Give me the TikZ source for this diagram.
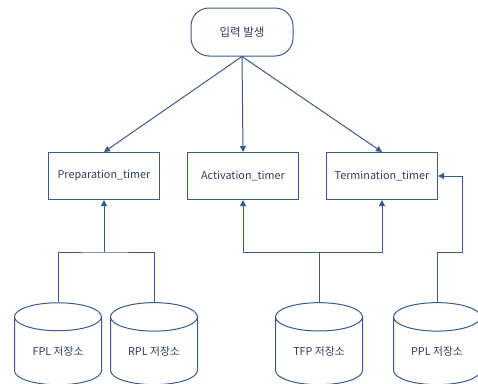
\documentclass[tikz,border=0pt]{standalone}
\usepackage{fontspec}
\setmainfont{Noto Sans CJK KR}
\usetikzlibrary{shapes.geometric,arrows.meta}
\definecolor{ln}{HTML}{3A5A8A}
\definecolor{tx}{HTML}{2F3D5C}
\begin{document}
\begin{tikzpicture}[x=1pt,y=-1pt,
  every node/.style={font=\fontsize{10.8}{13}\selectfont, text=tx},
  box/.style={draw=ln, line width=1pt, minimum width=111pt, minimum height=47pt, inner sep=0pt},
  startbox/.style={draw=ln, line width=1pt, rounded corners=18pt, minimum width=102pt, minimum height=48pt, inner sep=0pt, font=\fontsize{11.5}{13}\selectfont},
  store/.style={cylinder, shape border rotate=90, aspect=0.55, draw=ln, line width=1pt, minimum width=87pt, minimum height=82pt, inner sep=0pt},
  conn/.style={draw=ln, line width=1pt},
  arr/.style={conn, -{Triangle[length=6pt,width=6pt]}}]
\useasboundingbox (0,0) rectangle (478,383);
\clip (0,0) rectangle (478,383);
\node[startbox] (in) at (242,32) {입력 발생};
\node[box] (prep) at (104,176) {Preparation\_timer};
\node[box] (act) at (243,176) {Activation\_timer};
\node[box] (term) at (382,176) {Termination\_timer};
\node[store] (fpl) at (58,351) {FPL 저장소};
\node[store] (rpl) at (154,351) {RPL 저장소};
\node[store] (tfp) at (319,351) {TFP 저장소};
\node[store] (ppl) at (437,351) {PPL 저장소};
\coordinate (j1) at (104,252);
\coordinate (j2) at (319,252);
\draw[arr] (in.south) -- (prep.north);
\draw[arr] (in.south) -- (act.north);
\draw[arr] (in.south) -- (term.north);
\draw[conn] (fpl.top) |- (j1) -| (rpl.top);
\draw[arr] (j1) -- (prep.south);
\draw[conn] (tfp.top) -- (j2);
\draw[arr] (j2) -| (act.south);
\draw[arr] (j2) -| (term.south);
\draw[arr] (ppl.top) |- (462,252) -- (462,176) -- (term.east);
\end{tikzpicture}
\end{document}
